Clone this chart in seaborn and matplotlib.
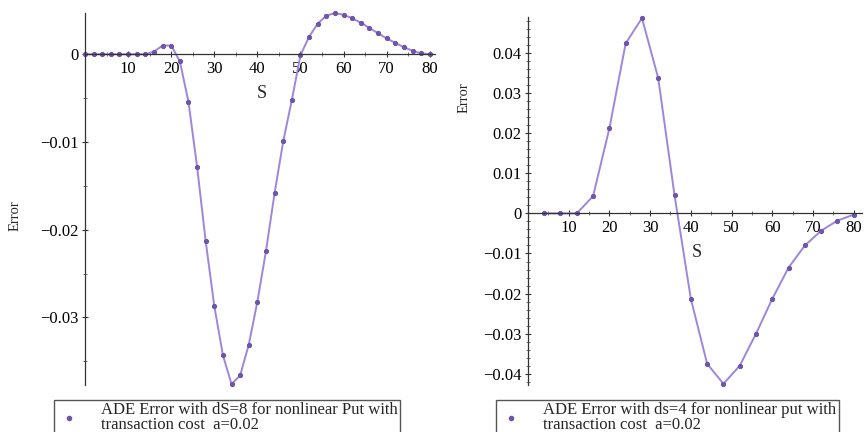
import matplotlib
matplotlib.use("Agg")

import matplotlib.pyplot as plt
import seaborn as sns
from matplotlib.lines import Line2D
from matplotlib.ticker import MultipleLocator

# ---------------------------
# 데이터
# ---------------------------

# 왼쪽: dS=8 (S = 0, 2, ..., 80)
s_left = list(range(0, 82, 2))
err_left = [
    0.0, 0.0, 0.0, 0.0, 0.0, 0.0, 0.0, 0.0,            # 0..14
    0.0003, 0.0010, 0.0010, -0.0008,                    # 16..22
    -0.0054, -0.0128, -0.0213, -0.0287, -0.0343,        # 24..32
    -0.0376, -0.0366, -0.0331, -0.0282, -0.0224,        # 34..42
    -0.0158, -0.0099, -0.0052, -0.0001,                 # 44..50
    0.0020, 0.0035, 0.0044, 0.0047, 0.0045,             # 52..60
    0.0041, 0.0036, 0.0030, 0.0024, 0.0018,             # 62..70
    0.0013, 0.0008, 0.0004, 0.0001, 0.0,                # 72..80
]

# 오른쪽: ds=4 (S = 4, 8, ..., 80)
s_right = list(range(4, 84, 4))
err_right = [
    0.0, 0.0, 0.0, 0.0043, 0.0212, 0.0424, 0.0487, 0.0337, 0.0045, -0.0213,
    -0.0375, -0.0425, -0.0380, -0.0300, -0.0213, -0.0135, -0.0080, -0.0043,
    -0.0018, -0.0003,
]

label_left = "ADE Error with dS=8 for nonlinear Put with\ntransaction cost  a=0.02"
label_right = "ADE Error with ds=4 for nonlinear put with\ntransaction cost  a=0.02"

LINE_COLOR = "#9d86dc"
DOT_COLOR = "#6e55a8"

# ---------------------------
# 스타일
# ---------------------------

sns.set_style("ticks")
plt.rcParams["font.family"] = ["Liberation Serif", "DejaVu Serif"]

fig = plt.figure(figsize=(8.64, 4.32), dpi=100)

ax1 = fig.add_axes([0.0984, 0.1088, 0.405, 0.861])
ax2 = fig.add_axes([0.611, 0.1088, 0.3866, 0.852])


def maple_axes(ax, xlim, ylim, ymajor, yminor):
    ax.set_xlim(*xlim)
    ax.set_ylim(*ylim)
    for side in ["top", "right"]:
        ax.spines[side].set_visible(False)
    ax.spines["left"].set_position(("data", 0))
    ax.spines["bottom"].set_position(("data", 0))
    for side in ["left", "bottom"]:
        ax.spines[side].set_linewidth(0.9)
        ax.spines[side].set_color("#333333")
    ax.xaxis.set_major_locator(MultipleLocator(10))
    ax.xaxis.set_minor_locator(MultipleLocator(5))
    ax.yaxis.set_major_locator(MultipleLocator(ymajor))
    ax.yaxis.set_minor_locator(MultipleLocator(yminor))
    ax.tick_params(which="major", direction="inout", length=5, width=0.8,
                   labelsize=12, pad=2, colors="#333333", labelcolor="black")
    ax.tick_params(which="minor", direction="inout", length=3, width=0.6,
                   colors="#555555")
    xt = [t for t in ax.get_xticks() if 0 < t <= xlim[1]]
    ax.set_xticks(xt)
    ax.set_xticklabels([f"{int(t)}" for t in xt])
    yt = [t for t in ax.get_yticks() if ylim[0] <= t <= ylim[1]]
    ax.set_yticks(yt)
    ax.set_yticklabels(["0" if abs(t) < 1e-12 else f"{t:.2f}".replace("-", "\u2212")
                        for t in yt])
    ax.set_xlabel("")
    ax.set_ylabel("")


# ---------------------------
# 왼쪽 그래프
# ---------------------------

sns.lineplot(x=s_left, y=err_left, ax=ax1, color=LINE_COLOR, linewidth=1.4,
             marker="o", markersize=3, markerfacecolor=DOT_COLOR,
             markeredgecolor=DOT_COLOR, clip_on=False)
maple_axes(ax1, (0, 81.2), (-0.0377, 0.0047), 0.01, 0.005)
ax1.text(41, -0.0045, "S", fontsize=13, ha="center", va="center")
fig.text(0.018, 0.50, "Error", rotation=90, fontsize=10.5, ha="center", va="center")

# ---------------------------
# 오른쪽 그래프
# ---------------------------

sns.lineplot(x=s_right, y=err_right, ax=ax2, color=LINE_COLOR, linewidth=1.4,
             marker="o", markersize=3, markerfacecolor=DOT_COLOR,
             markeredgecolor=DOT_COLOR, clip_on=False)
maple_axes(ax2, (0, 82.0), (-0.0428, 0.049), 0.01, 0.002)
ax2.text(41.5, -0.0098, "S", fontsize=13, ha="center", va="center")
fig.text(0.537, 0.775, "Error", rotation=90, fontsize=10.5, ha="center", va="center")

# ---------------------------
# 범례
# ---------------------------

for ax, label, x0 in [(ax1, label_left, 0.053), (ax2, label_right, 0.565)]:
    handle = Line2D([], [], linestyle="none", marker="o", markersize=3,
                    color=DOT_COLOR)
    if ax.get_legend() is not None:
        ax.get_legend().remove()
    leg = fig.legend([handle], [label], loc="upper left",
                     bbox_to_anchor=(x0, 0.0926), fontsize=12, frameon=True,
                     fancybox=False, edgecolor="#555555", framealpha=1,
                     borderpad=0.12, handlelength=1.5, handletextpad=1.2,
                     labelspacing=0.1)
    for t in leg.get_texts():
        t.set_linespacing(0.92)

fig.savefig("out.png", dpi=100)
